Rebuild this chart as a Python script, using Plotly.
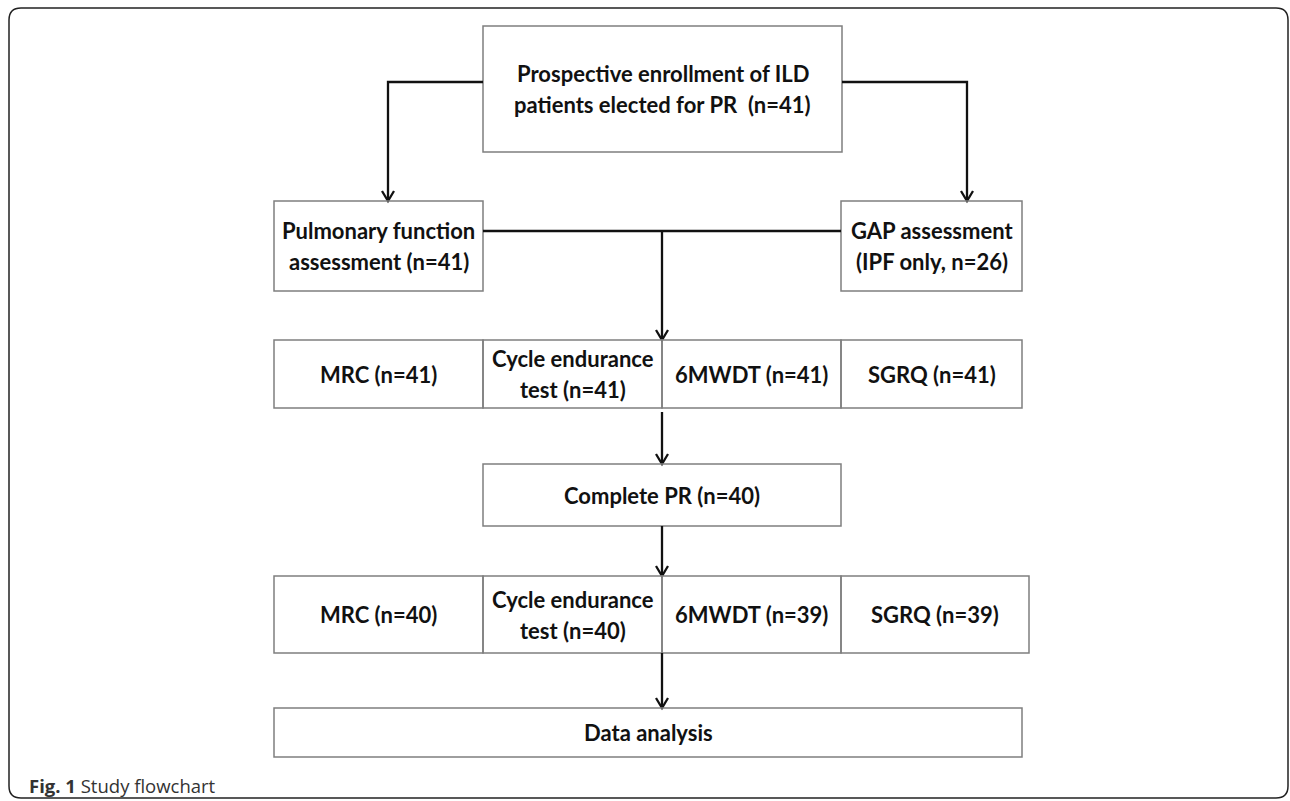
import plotly.graph_objects as go

# ---- data (counts shown in the flowchart) ----
enroll_lines = ["Prospective enrollment of ILD", "patients elected for PR  (n={})"]
enroll_n = 41
pulm_lines = ["Pulmonary function", "assessment (n={})"]
pulm_n = 41
gap_lines = ["GAP assessment", "(IPF only, n={})"]
gap_n = 26
measure_labels = [["MRC (n={})"], ["Cycle endurance", "test (n={})"], ["6MWDT (n={})"], ["SGRQ (n={})"]]
baseline_n = [41, 41, 41, 41]
complete_lines = ["Complete PR (n={})"]
complete_n = 40
followup_n = [40, 40, 39, 39]
final_lines = ["Data analysis"]
caption = "<b>Fig. 1</b> Study flowchart"

# ---- layout geometry (pixels) ----
W, H = 1290, 801
BOX_LINE = dict(color="#7f7f7f", width=1.5)
ARROW_LINE = dict(color="#111111", width=2.3)
FONT = dict(family="Lato, Carlito, Calibri, sans-serif", size=22, color="#111111")
LINE_GAP = 31

top_box = (483, 26, 842, 152)
pulm_box = (274, 201, 483, 291)
gap_box = (841, 201, 1022, 291)
row1_x = [274, 483, 662, 841, 1022]
row1_y = (340, 408)
comp_box = (483, 464, 841, 526)
row2_x = [274, 483, 662, 841, 1029]
row2_y = (576, 653)
final_box = (274, 708, 1022, 757)
center_x = 662
split_y = 82
join_y = 231

fig = go.Figure()
shapes = []
annotations = []


def rect(x0, y0, x1, y1):
    shapes.append(dict(type="rect", xref="x", yref="y", x0=x0, y0=y0, x1=x1, y1=y1,
                       line=BOX_LINE, fillcolor="rgba(0,0,0,0)", layer="above"))


def label(x, y, text, font=FONT, xanchor="center"):
    annotations.append(dict(x=x, y=y, xref="x", yref="y", text=text, showarrow=False,
                            font=font, xanchor=xanchor, yanchor="middle", align="center"))


def block(box, lines, n=None):
    cx = (box[0] + box[2]) / 2
    cy = (box[1] + box[3]) / 2
    k = len(lines)
    for j, ln in enumerate(lines):
        txt = ln.format(n) if n is not None else ln
        label(cx, cy + (j - (k - 1) / 2) * LINE_GAP, "<b>" + txt + "</b>")


def seg(points):
    path = "M " + " L ".join(f"{px},{py}" for px, py in points)
    shapes.append(dict(type="path", xref="x", yref="y", path=path, line=ARROW_LINE, layer="above"))


def head(x, y):
    path = f"M {x-6},{y-10} L {x},{y} L {x+6},{y-10}"
    shapes.append(dict(type="path", xref="x", yref="y", path=path, line=ARROW_LINE, layer="above"))


# outer rounded frame
r = 12
fx0, fy0, fx1, fy1 = 9, 8, 1288, 798
frame = (f"M {fx0+r},{fy0} L {fx1-r},{fy0} Q {fx1},{fy0} {fx1},{fy0+r} L {fx1},{fy1-r} "
         f"Q {fx1},{fy1} {fx1-r},{fy1} L {fx0+r},{fy1} Q {fx0},{fy1} {fx0},{fy1-r} "
         f"L {fx0},{fy0+r} Q {fx0},{fy0} {fx0+r},{fy0} Z")
shapes.append(dict(type="path", xref="x", yref="y", path=frame,
                   line=dict(color="#222222", width=1.5)))

# top box
rect(*top_box)
block(top_box, enroll_lines, enroll_n)

# split arrows
lx = 388
rx = 967
seg([(top_box[0], split_y), (lx, split_y), (lx, pulm_box[1])])
head(lx, pulm_box[1])
seg([(top_box[2], split_y), (rx, split_y), (rx, gap_box[1])])
head(rx, gap_box[1])

# second level boxes
rect(*pulm_box)
block(pulm_box, pulm_lines, pulm_n)
rect(*gap_box)
block(gap_box, gap_lines, gap_n)

# join line and arrow down
seg([(pulm_box[2], join_y), (gap_box[0], join_y)])
seg([(center_x, join_y), (center_x, row1_y[0])])
head(center_x, row1_y[0])

# baseline row
for i, (lab, n) in enumerate(zip(measure_labels, baseline_n)):
    x0, x1 = row1_x[i], row1_x[i + 1]
    rect(x0, row1_y[0], x1, row1_y[1])
    block((x0, row1_y[0], x1, row1_y[1]), lab, n)

seg([(center_x, row1_y[1] + 4), (center_x, comp_box[1])])
head(center_x, comp_box[1])

# complete PR
rect(*comp_box)
block(comp_box, complete_lines, complete_n)

seg([(center_x, comp_box[3]), (center_x, row2_y[0])])
head(center_x, row2_y[0])

# follow-up row
for i, (lab, n) in enumerate(zip(measure_labels, followup_n)):
    x0, x1 = row2_x[i], row2_x[i + 1]
    rect(x0, row2_y[0], x1, row2_y[1])
    block((x0, row2_y[0], x1, row2_y[1]), lab, n)

seg([(center_x, row2_y[1]), (center_x, final_box[1])])
head(center_x, final_box[1])

# final box
rect(*final_box)
block(final_box, final_lines)

# caption
label(27, 785, caption, font=dict(family="Open Sans, sans-serif", size=18.5, color="#333333"), xanchor="left")

fig.update_layout(
    width=W, height=H,
    margin=dict(l=0, r=0, t=0, b=0),
    paper_bgcolor="white", plot_bgcolor="white",
    xaxis=dict(range=[0, W], visible=False, fixedrange=True),
    yaxis=dict(range=[H, 0], visible=False, fixedrange=True),
    shapes=shapes, annotations=annotations,
    showlegend=False,
)

fig.write_html(
    "out.html",
    config={"displayModeBar": False},
    post_script="document.body.style.margin='0';document.body.style.overflow='hidden';",
)
